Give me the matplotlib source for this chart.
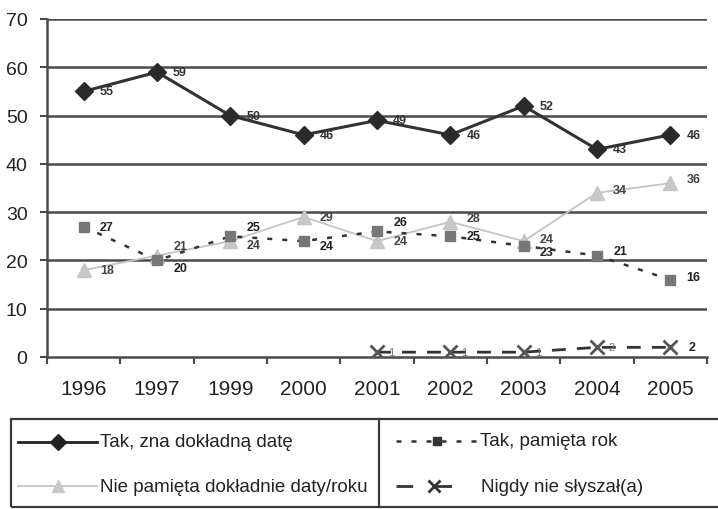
import matplotlib.pyplot as plt
from matplotlib.lines import Line2D
from matplotlib.patches import Rectangle

plt.rcParams['font.family'] = ['Liberation Sans', 'DejaVu Sans']

years = ["1996", "1997", "1999", "2000", "2001", "2002", "2003", "2004", "2005"]
zna_date = [55, 59, 50, 46, 49, 46, 52, 43, 46]
pamieta_rok = [27, 20, 25, 24, 26, 25, 23, 21, 16]
nie_pamieta = [18, 21, 24, 29, 24, 28, 24, 34, 36]
nigdy_years = ["2001", "2002", "2003", "2004", "2005"]
nigdy = [1, 1, 1, 2, 2]

labels = ["Tak, zna dokładną datę", "Tak, pamięta rok",
          "Nie pamięta dokładnie daty/roku", "Nigdy nie słyszał(a)"]

# label nudges (in data units) so the numbers don't sit on each other
rok_dy = [0, -1.6, 2, -1.1, 1.9, 0, -1.3, 1, 0.5]
nie_dy = [0, 2, -0.8, 0, 0, 0.8, 0.4, 0.5, 0.8]

fig = plt.figure(figsize=(7.18, 5.10), dpi=100)
ax = fig.add_axes([47/718, 1-358/510, 660/718, 338/510])

x = list(range(len(years)))
xn = [years.index(y) for y in nigdy_years]

grid_c = "#4a4a4a"
for v in range(10, 80, 10):
    ax.axhline(v, color=grid_c, lw=1.8, zorder=1)

ax.plot(x, nie_pamieta, color="#c4c4c4", lw=1.3, marker="^", ms=10,
        mec="#c4c4c4", mfc="#c8c8c8", zorder=3)
ax.plot(x, pamieta_rok, color="#333333", lw=1.8, ls=(0, (2, 4)), marker="s",
        ms=7, mfc="#777777", mec="#777777", zorder=4)
ax.plot(x, zna_date, color="#333333", lw=2.2, marker="D", ms=9,
        mfc="#2a2a2a", mec="#2a2a2a", zorder=5)
ax.plot(xn, nigdy, color="#333333", lw=2, ls=(0, (5, 4)), marker="x", ms=10,
        mew=2, mec="#555555", zorder=4)

lab_kw = dict(fontsize=9, fontweight="bold", va="center", zorder=6)
for i, v in enumerate(zna_date):
    ax.text(i + 0.22, v, str(v), color="#333333", **lab_kw)
for i, v in enumerate(pamieta_rok):
    ax.text(i + 0.22, v + rok_dy[i], str(v), color="#222222", **lab_kw)
for i, v in enumerate(nie_pamieta):
    ax.text(i + 0.22, v + nie_dy[i], str(v), color="#444444", **lab_kw)
for i, v in zip(xn, nigdy):
    if i < 8:
        ax.text(i + 0.15, v, str(v), color="#777777", fontsize=8,
                va="center", zorder=6)
    else:
        ax.text(i + 0.25, v, str(v), color="#222222", **lab_kw)

ax.set_xlim(-0.5, 8.5)
ax.set_ylim(0, 70)
ax.set_yticks(range(0, 80, 10))
ax.set_xticks(x)
ax.set_xticklabels(years)
ax.set_xticks([k - 0.5 for k in range(10)], minor=True)
ax.tick_params(axis="x", which="major", length=0, pad=16, labelsize=15,
               labelcolor="#222222")
ax.tick_params(axis="x", which="minor", length=5, width=1.5, color=grid_c)
ax.tick_params(axis="y", length=5, width=1.5, color=grid_c, labelsize=14,
               pad=9, labelcolor="#222222")
for s in ["top", "right"]:
    ax.spines[s].set_visible(False)
for s in ["left", "bottom"]:
    ax.spines[s].set_color(grid_c)
    ax.spines[s].set_linewidth(1.8)

# legend box, drawn as a two-column table under the plot
H = 510.0
W = 718.0
def fx(px):
    return px / W
def fy(py):
    return 1 - py / H

fig.patches.append(Rectangle((fx(11), fy(508)), fx(730) - fx(11), fy(420) - fy(508),
                             transform=fig.transFigure, fill=False,
                             ec="#3a3a3a", lw=1.6))
fig.lines.append(Line2D([fx(379), fx(379)], [fy(420), fy(508)],
                        transform=fig.transFigure, color="#3a3a3a", lw=1.6))

def sample(x0, x1, y, **kw):
    fig.lines.append(Line2D([fx(x0), fx((x0 + x1) / 2), fx(x1)], [fy(y)] * 3,
                            transform=fig.transFigure, markevery=[1], **kw))

sample(18, 97, 443, color="#222222", lw=2, marker="D", ms=8, mfc="#222222", mec="#222222")
sample(396, 477, 442, color="#333333", lw=1.8, ls=(0, (2, 4)), marker="s", ms=6,
       mfc="#333333", mec="#333333")
sample(18, 97, 487, color="#c4c4c4", lw=1.3, marker="^", ms=9, mfc="#c8c8c8", mec="#c8c8c8")
sample(396, 472, 487, color="#333333", lw=2, ls=(0, (6, 8)), marker="x", ms=8,
       mew=2, mec="#333333")

txt_kw = dict(fontsize=13.5, va="center", color="#222222")
fig.text(fx(100), fy(443), labels[0], **txt_kw)
fig.text(fx(480), fy(442), labels[1], **txt_kw)
fig.text(fx(100), fy(487), labels[2], **txt_kw)
fig.text(fx(481), fy(487), labels[3], **txt_kw)

fig.savefig("out.png", dpi=100)
